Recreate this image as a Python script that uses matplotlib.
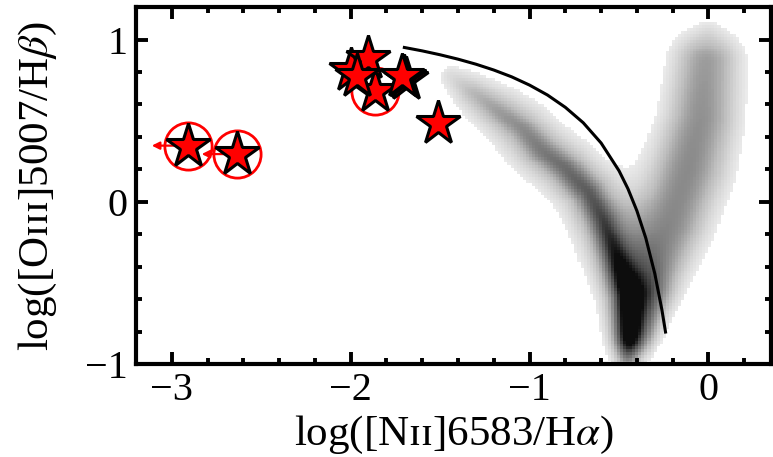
import numpy as np
import matplotlib
matplotlib.use("Agg")
import matplotlib.pyplot as plt

plt.rcParams['font.family'] = ['Liberation Serif', 'DejaVu Serif']
plt.rcParams['mathtext.fontset'] = 'stix'

# Red stars (log NII/Ha, log OIII/Hb), drawn back to front
star_x = [-2.912, -2.633, -1.865, -1.996, -1.905, -1.962, -1.691, -1.703, -1.715, -1.514]
star_y = [0.346, 0.294, 0.680, 0.810, 0.885, 0.778, 0.754, 0.766, 0.778, 0.488]

# stars with a red circle around them
circle_x = [-2.912, -2.633, -1.865]
circle_y = [0.346, 0.294, 0.680]

# upper limits in NII/Ha (arrows to the left)
limit_x = [-2.912, -2.633]
limit_y = [0.346, 0.294]
limit_len = 0.2

# Kauffmann et al. (2003) demarcation
kauff_x = [-1.70, -1.60, -1.50, -1.40, -1.30, -1.20, -1.10, -1.00, -0.90, -0.80,
           -0.70, -0.60, -0.50, -0.45, -0.40, -0.35, -0.30, -0.26, -0.24]
kauff_y = [0.951, 0.930, 0.906, 0.879, 0.848, 0.812, 0.770, 0.719, 0.658, 0.582,
           0.487, 0.362, 0.191, 0.080, -0.056, -0.225, -0.443, -0.668, -0.803]

# SDSS background: ridge lines of the two branches (centre, spread, darkness)
sf_x = [-1.44, -1.32, -1.18, -1.05, -0.94, -0.81, -0.68, -0.60, -0.52, -0.45, -0.45, -0.46]
sf_y = [0.76, 0.66, 0.55, 0.44, 0.31, 0.20, 0.05, -0.12, -0.36, -0.58, -0.80, -0.97]
sf_halo_w = [0.07, 0.10, 0.12, 0.135, 0.14, 0.14, 0.14, 0.14, 0.13, 0.12, 0.10, 0.08]
sf_halo_level = [0.24, 0.34, 0.38, 0.40, 0.42, 0.43, 0.44, 0.46, 0.48, 0.50, 0.46, 0.32]
sf_core_w = [0.03, 0.035, 0.04, 0.045, 0.05, 0.05, 0.05, 0.05, 0.05, 0.05, 0.045, 0.035]
sf_core_level = [0.0, 0.05, 0.10, 0.14, 0.18, 0.22, 0.27, 0.31, 0.36, 0.45, 0.38, 0.18]

agn_x = [-0.42, -0.33, -0.22, -0.12, -0.05, -0.02, -0.01]
agn_y = [-0.85, -0.50, -0.15, 0.20, 0.50, 0.85, 1.00]
agn_w = [0.08, 0.13, 0.16, 0.17, 0.16, 0.15, 0.09]
agn_level = [0.36, 0.50, 0.54, 0.54, 0.52, 0.48, 0.28]

dens_cut = 0.15


def ridge_density(gx, gy, rx, ry, rw, rl):
    # spread each ridge point sideways to get a smooth band
    t = np.linspace(0, len(rx) - 1, 300)
    idx = np.arange(len(rx))
    px = np.interp(t, idx, rx)
    py = np.interp(t, idx, ry)
    pw = np.interp(t, idx, rw)
    pl = np.interp(t, idx, rl)
    d2 = (gx[..., None] - px) ** 2 + (gy[..., None] - py) ** 2
    return (pl * np.exp(-d2 / (2 * pw ** 2))).max(axis=-1)


xe = np.arange(-1.70, 0.36, 0.017)
ye = np.arange(-1.0, 1.2, 0.018)
gx, gy = np.meshgrid(xe, ye)
dens = (ridge_density(gx, gy, sf_x, sf_y, sf_halo_w, sf_halo_level)
        + ridge_density(gx, gy, sf_x, sf_y, sf_core_w, sf_core_level)
        + ridge_density(gx, gy, agn_x, agn_y, agn_w, agn_level))
dens = np.clip(dens, 0, 0.95)
dens = np.ma.masked_less(dens, dens_cut)

cmap = plt.get_cmap('Greys').copy()
cmap.set_bad('white', alpha=0)

fig = plt.figure(figsize=(7.73, 4.57), dpi=100)
ax = fig.add_axes([0.176, 0.2035, 0.8215, 0.781])

ax.imshow(dens, cmap=cmap, vmin=0, vmax=1, origin='lower', aspect='auto',
          interpolation='nearest',
          extent=[xe[0], xe[-1] + 0.017, ye[0], ye[-1] + 0.018], zorder=1)

ax.plot(kauff_x, kauff_y, color='black', lw=2.2, zorder=2)

for x, y in zip(limit_x, limit_y):
    ax.annotate('', xy=(x - limit_len, y), xytext=(x, y),
                arrowprops=dict(arrowstyle='-|>', color='red', lw=1.6,
                                mutation_scale=11, shrinkA=0, shrinkB=0),
                zorder=3)

ax.plot(circle_x, circle_y, 'o', ms=34, mfc='none', mec='red', mew=2.0, zorder=4)

for x, y in zip(star_x, star_y):
    ax.plot(x, y, '*', ms=33, mfc='red', mec='black', mew=2.2, zorder=5)

ax.set_xlim(-3.2, 0.35)
ax.set_ylim(-1, 1.2)
ax.set_xticks([-3, -2, -1, 0])
ax.set_yticks([-1, 0, 1])
ax.set_xticks(np.arange(-3.2, 0.36, 0.2), minor=True)
ax.set_yticks(np.arange(-1, 1.21, 0.2), minor=True)
ax.set_xticklabels(['\u22123', '\u22122', '\u22121', '0'])
ax.set_yticklabels(['\u22121', '0', '1'])

for s in ax.spines.values():
    s.set_linewidth(3.0)
ax.tick_params(which='both', direction='in', top=True, right=True, width=2.8,
               labelsize=29)
ax.tick_params(which='major', length=8.5, pad=6)
ax.tick_params(which='minor', length=4.5)

ax.set_xlabel('log([N\u026a\u026a]6583/H$\\alpha$)', fontsize=31, labelpad=3)
ax.set_ylabel('log([O\u026a\u026a\u026a]5007/H$\\beta$)', fontsize=31, labelpad=19)

fig.savefig('out.png', dpi=100)
